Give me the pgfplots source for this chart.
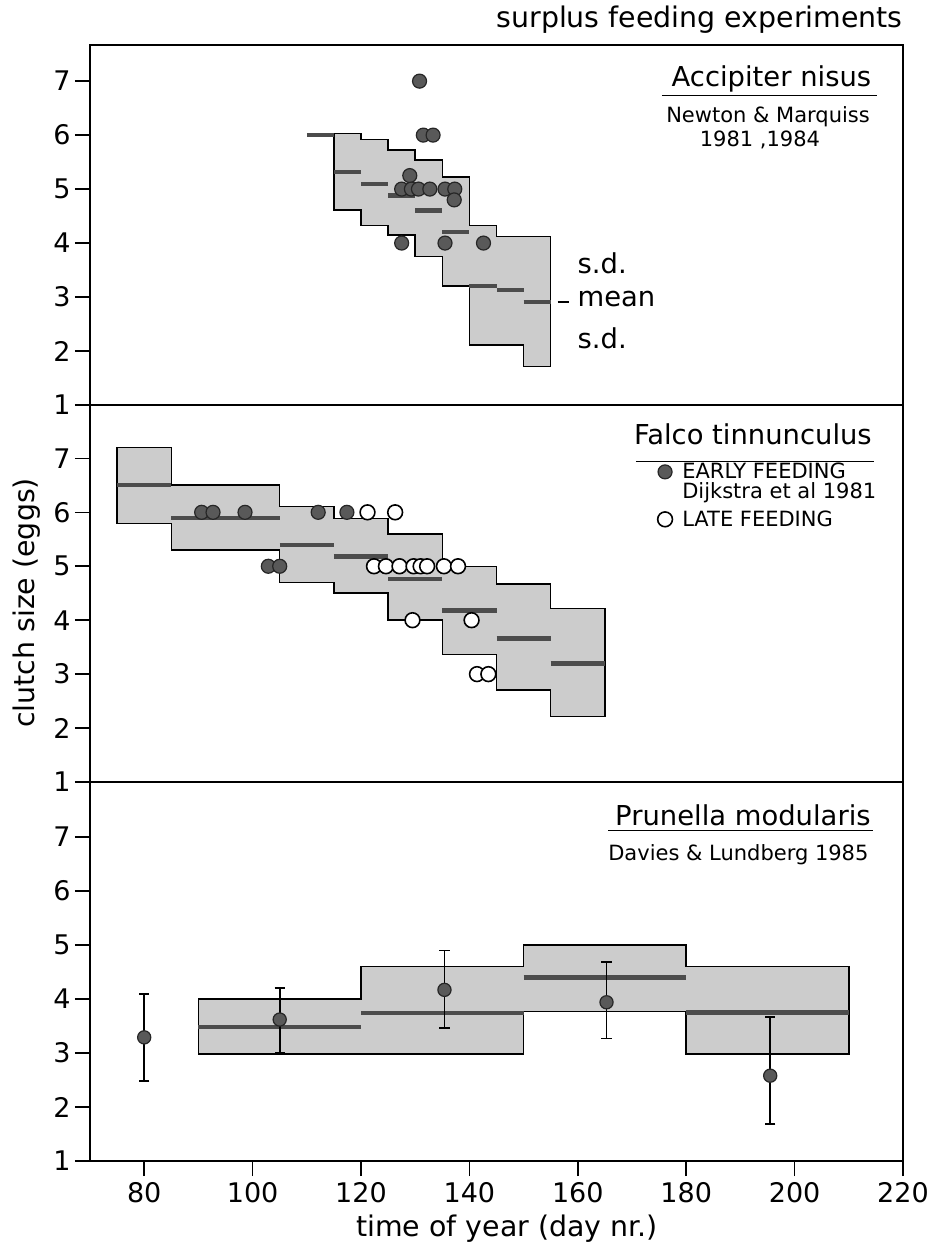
\documentclass[border=0pt]{standalone}
\usepackage{fontspec}
\setmainfont{DejaVu Sans}
\usepackage{pgfplots}
\pgfplotsset{compat=1.18}

\definecolor{boxfill}{gray}{0.80}
\definecolor{meancol}{gray}{0.30}
\definecolor{dotfill}{gray}{0.35}

\newcommand\bigf{\fontsize{13.7}{16}\selectfont}
\newcommand\smallf{\fontsize{10.5}{12.5}\selectfont}
\newcommand\labf{\fontsize{14.2}{17}\selectfont}
\newcommand\tickf{\fontsize{13.5}{16}\selectfont}

\tikzset{txt/.style={inner sep=0pt}}
\pgfplotsset{
  panel/.style={
    scale only axis, width=406.5pt,
    xmin=70, xmax=220, ymin=1,
    ytick={1,2,3,4,5,6,7},
    tick align=outside,
    major tick length=7.5pt,
    axis line style={line width=1pt},
    every tick/.style={line width=0.8pt, black},
    ytick pos=left,
    clip=false,
    unbounded coords=jump,
    /pgf/number format/assume math mode=true,
    ticklabel style={font=\tickf},
    yticklabel style={inner sep=2pt},
    xticklabel style={inner sep=3pt},
    anchor=south west,
  },
  meanline/.style={line width=2.2pt, color=meancol},
  sdbox/.style={fill=boxfill, draw=black, line width=0.75pt},
  fdot/.style={only marks, mark=*, mark size=3.5pt, mark options={fill=dotfill, draw=black!85, line width=0.6pt}},
  odot/.style={only marks, mark=*, mark size=3.7pt, mark options={fill=white, draw=black, line width=0.8pt}},
}

\begin{document}
\begin{tikzpicture}
\useasboundingbox (0,0) rectangle (467.5pt,624pt);

% ---------------- Panel 1: Accipiter nisus ----------------
\begin{axis}[panel, at={(45pt,421.5pt)}, height=180pt, ymax=7.67, xtick=\empty]
\addplot[sdbox] coordinates {
 (115,6.03) (120,6.03) (120,5.92) (125,5.92) (125,5.72) (130,5.72) (130,5.54) (135,5.54)
 (135,5.22) (140,5.22) (140,4.33) (145,4.33) (145,4.12) (155,4.12)
 (155,1.71) (150,1.71) (150,2.11) (140,2.11) (140,3.20) (135,3.20) (135,3.75) (130,3.75)
 (130,4.15) (125,4.15) (125,4.33) (120,4.33) (120,4.61) (115,4.61)} -- cycle;
\addplot[meanline] coordinates {
 (110,6.0) (115,6.0) (115,nan)
 (115,5.32) (120,5.32) (120,nan)
 (120,5.09) (125,5.09) (125,nan)
 (125,4.88) (130,4.88) (130,nan)
 (130,4.60) (135,4.60) (135,nan)
 (135,4.20) (140,4.20) (140,nan)
 (140,3.20) (145,3.20) (145,nan)
 (145,3.13) (150,3.13) (150,nan)
 (150,2.91) (155,2.91)};
\addplot[fdot] coordinates {
 (130.8,7.0) (131.5,6.0) (133.3,6.0) (129.0,5.25) (127.5,5.0) (129.3,5.0) (130.6,5.0)
 (132.7,5.0) (135.5,5.0) (137.3,5.0) (137.2,4.8) (127.5,4.0) (135.5,4.0) (142.6,4.0)};
\node[txt, anchor=base east, font=\bigf] at (axis cs:214.2,6.90) {Accipiter nisus};
\draw[line width=0.75pt] (axis cs:175.5,6.73) -- (axis cs:215.2,6.73);
\node[txt, anchor=base, font=\smallf] at (axis cs:195.1,6.24) {Newton \& Marquiss};
\node[txt, anchor=base, font=\smallf] at (axis cs:193.6,5.79) {1981 ,1984};
\node[txt, anchor=base west, font=\bigf] at (axis cs:159.9,3.44) {s.d.};
\draw[line width=0.8pt] (axis cs:156.3,2.91) -- (axis cs:158.3,2.91);
\node[txt, anchor=base west, font=\bigf] at (axis cs:159.9,2.82) {mean};
\node[txt, anchor=base west, font=\bigf] at (axis cs:159.9,2.05) {s.d.};
\end{axis}

% ---------------- Panel 2: Falco tinnunculus ----------------
\begin{axis}[panel, at={(45pt,233pt)}, height=188.5pt, ymax=7.99, xtick=\empty]
\addplot[sdbox] coordinates {
 (75,7.20) (85,7.20) (85,6.51) (105,6.51) (105,6.11) (115,6.11) (115,5.89) (125,5.89)
 (125,5.60) (135,5.60) (135,5.00) (145,5.00) (145,4.67) (155,4.67) (155,4.22) (165,4.22)
 (165,2.21) (155,2.21) (155,2.71) (145,2.71) (145,3.36) (135,3.36) (135,4.00) (125,4.00)
 (125,4.50) (115,4.50) (115,4.70) (105,4.70) (105,5.30) (85,5.30) (85,5.79) (75,5.79)} -- cycle;
\addplot[meanline] coordinates {
 (75,6.51) (85,6.51) (85,nan)
 (85,5.89) (105,5.89) (105,nan)
 (105,5.39) (115,5.39) (115,nan)
 (115,5.18) (125,5.18) (125,nan)
 (125,4.76) (135,4.76) (135,nan)
 (135,4.18) (145,4.18) (145,nan)
 (145,3.66) (155,3.66) (155,nan)
 (155,3.20) (165,3.20)};
\addplot[fdot] coordinates {
 (90.6,6) (92.7,6) (98.6,6) (112.1,6) (117.4,6) (102.9,5) (105.0,5)};
\addplot[odot] coordinates {
 (121.2,6) (126.3,6) (122.4,5) (124.6,5) (127.1,5) (129.7,5) (131.0,5) (132.2,5)
 (135.3,5) (137.9,5) (129.5,4) (140.4,4) (141.4,3) (143.5,3)};
% legend
\addplot[fdot] coordinates {(176.1,6.75)};
\addplot[odot] coordinates {(176.1,5.87)};
\node[txt, anchor=base east, font=\bigf] at (axis cs:214.3,7.25) {Falco tinnunculus};
\draw[line width=0.75pt] (axis cs:170.7,6.94) -- (axis cs:214.6,6.94);
\node[txt, anchor=base west, font=\smallf] at (axis cs:179.2,6.63) {EARLY FEEDING};
\node[txt, anchor=base west, font=\smallf] at (axis cs:179.2,6.26) {Dijkstra et al 1981};
\node[txt, anchor=base west, font=\smallf] at (axis cs:179.2,5.73) {LATE FEEDING};
\end{axis}

% ---------------- Panel 3: Prunella modularis ----------------
\begin{axis}[panel, at={(45pt,43.5pt)}, height=189.5pt, ymax=8.02,
  xtick={80,100,120,140,160,180,200,220}, xtick pos=bottom]
\addplot[sdbox] coordinates {
 (90,2.98) (90,4.00) (120,4.00) (120,4.60) (150,4.60) (150,5.00) (180,5.00) (180,4.60)
 (210,4.60) (210,2.98) (180,2.98) (180,3.77) (150,3.77) (150,2.98)} -- cycle;
\addplot[meanline] coordinates {
 (90,3.48) (120,3.48) (120,nan)
 (120,3.74) (150,3.74) (150,nan)
 (150,4.40) (180,4.40) (180,nan)
 (180,3.75) (210,3.75)};
\addplot[only marks, mark=*, mark size=3.3pt,
  mark options={fill=dotfill, draw=black!85, line width=0.6pt},
  error bars/.cd, y dir=both, y explicit,
  error bar style={line width=0.8pt, black},
  error mark options={rotate=90, mark size=2.6pt, line width=0.9pt, black}]
 coordinates {
 (80,3.29) += (0,0.80) -= (0,0.81)
 (105,3.62) += (0,0.58) -= (0,0.62)
 (135.4,4.17) += (0,0.73) -= (0,0.70)
 (165.3,3.94) += (0,0.74) -= (0,0.67)
 (195.5,2.58) += (0,1.08) -= (0,0.90)};
\node[txt, anchor=base east, font=\bigf] at (axis cs:214.1,7.22) {Prunella modularis};
\draw[line width=0.75pt] (axis cs:165.6,7.12) -- (axis cs:214.5,7.12);
\node[txt, anchor=base east, font=\smallf] at (axis cs:213.7,6.57) {Davies \& Lundberg 1985};
\end{axis}

% ---------------- global labels ----------------
\node[txt, anchor=base east, font=\labf] at (451.5pt,610pt) {surplus feeding experiments};
\node[txt, anchor=base, font=\labf] at (253.5pt,5.5pt) {time of year (day nr.)};
\node[rotate=90, anchor=center, font=\labf, inner sep=0pt] at (13.5pt,322.5pt) {clutch size (eggs)};
\end{tikzpicture}
\end{document}
